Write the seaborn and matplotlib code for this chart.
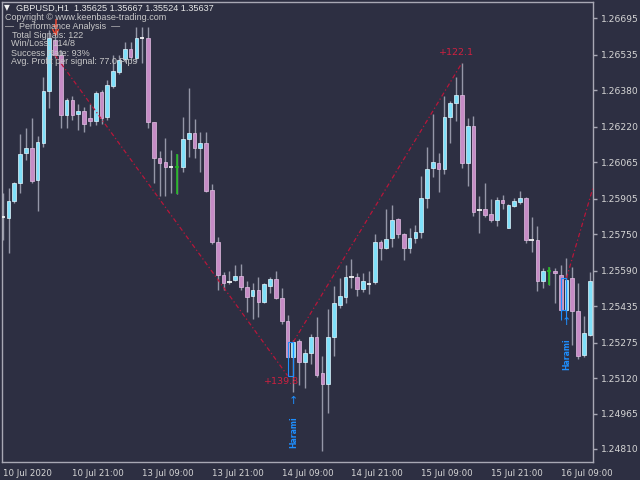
import matplotlib
matplotlib.use("Agg")
import matplotlib.pyplot as plt
from matplotlib.patches import Rectangle
import numpy as np
import pandas as pd
import seaborn as sns

# GBPUSD H1 bars, 10 Jul 2020 09:00 -> 16 Jul 2020 14:00
opens = [1.25825, 1.25820, 1.25895, 1.25973, 1.26105, 1.26126, 1.25986, 1.26148, 1.26376, 1.26599,
         1.26533, 1.26271, 1.26336, 1.26275, 1.26288, 1.26258, 1.26245, 1.26371, 1.26262, 1.26398,
         1.26459, 1.26516, 1.26559, 1.26520, 1.26608, 1.26608, 1.26240, 1.26083, 1.26065, 1.26043,
         1.26043, 1.26043, 1.26166, 1.26192, 1.26126, 1.26148, 1.25943, 1.25715, 1.25571, 1.25540,
         1.25549, 1.25567, 1.25519, 1.25479, 1.25505, 1.25453, 1.25523, 1.25554, 1.25470, 1.25370,
         1.25212, 1.25282, 1.25191, 1.25230, 1.25300, 1.25142, 1.25094, 1.25300, 1.25440, 1.25475,
         1.25562, 1.25562, 1.25510, 1.25532, 1.25540, 1.25715, 1.25689, 1.25733, 1.25816, 1.25750,
         1.25689, 1.25733, 1.25759, 1.25908, 1.26039, 1.26061, 1.26035, 1.26262, 1.26323, 1.26358,
         1.26061, 1.26223, 1.25855, 1.25860, 1.25838, 1.25812, 1.25899, 1.25777, 1.25873, 1.25890,
         1.25908, 1.25724, 1.25724, 1.25545, 1.25589, 1.25589, 1.25571, 1.25418, 1.25558, 1.25414,
         1.25221, 1.25309]
highs = [1.25930, 1.25952, 1.25978, 1.26188, 1.26214, 1.26258, 1.26179, 1.26437, 1.26642, 1.26612,
         1.26555, 1.26345, 1.26354, 1.26319, 1.26306, 1.26319, 1.26376, 1.26380, 1.26424, 1.26533,
         1.26533, 1.26590, 1.26590, 1.26656, 1.26656, 1.26656, 1.26242, 1.26113, 1.26170, 1.26118,
         1.26100, 1.26262, 1.26389, 1.26253, 1.26197, 1.26197, 1.25969, 1.25737, 1.25584, 1.25589,
         1.25615, 1.25619, 1.25545, 1.25536, 1.25562, 1.25536, 1.25562, 1.25589, 1.25514, 1.25396,
         1.25287, 1.25291, 1.25247, 1.25313, 1.25387, 1.25217, 1.25422, 1.25523, 1.25558, 1.25615,
         1.25641, 1.25580, 1.25580, 1.25589, 1.25750, 1.25724, 1.25860, 1.25877, 1.25820, 1.25755,
         1.25777, 1.25790, 1.26004, 1.26131, 1.26275, 1.26105, 1.26354, 1.26332, 1.26437, 1.26498,
         1.26258, 1.26266, 1.25917, 1.25973, 1.25903, 1.25912, 1.25921, 1.25882, 1.25908, 1.25938,
         1.25912, 1.25825, 1.25785, 1.25602, 1.25606, 1.25602, 1.25615, 1.25645, 1.25606, 1.25536,
         1.25392, 1.25584]
lows = [1.25724, 1.25667, 1.25886, 1.25930, 1.26074, 1.25973, 1.25851, 1.26131, 1.26301, 1.26520,
        1.26214, 1.26214, 1.26249, 1.26205, 1.26197, 1.26223, 1.26227, 1.26231, 1.26249, 1.26389,
        1.26450, 1.26503, 1.26511, 1.26503, 1.26498, 1.26214, 1.25973, 1.25917, 1.25917, 1.25930,
        1.25925, 1.26022, 1.26087, 1.26083, 1.26022, 1.25934, 1.25707, 1.25505, 1.25505, 1.25532,
        1.25545, 1.25505, 1.25409, 1.25379, 1.25387, 1.25449, 1.25492, 1.25466, 1.25357, 1.25208,
        1.25059, 1.25090, 1.25077, 1.25182, 1.25125, 1.24801, 1.24968, 1.25217, 1.25427, 1.25449,
        1.25514, 1.25479, 1.25497, 1.25488, 1.25532, 1.25637, 1.25685, 1.25694, 1.25733, 1.25637,
        1.25667, 1.25711, 1.25733, 1.25864, 1.26000, 1.25934, 1.26013, 1.26148, 1.26245, 1.26039,
        1.25960, 1.25829, 1.25755, 1.25825, 1.25803, 1.25785, 1.25860, 1.25775, 1.25869, 1.25882,
        1.25711, 1.25672, 1.25501, 1.25514, 1.25527, 1.25449, 1.25414, 1.25409, 1.25265, 1.25204,
        1.25212, 1.25304]
closes = [1.25825, 1.25895, 1.25973, 1.26100, 1.26126, 1.25982, 1.26153, 1.26376, 1.26608, 1.26533,
          1.26271, 1.26336, 1.26271, 1.26288, 1.26231, 1.26245, 1.26367, 1.26258, 1.26402, 1.26463,
          1.26511, 1.26559, 1.26524, 1.26608, 1.26608, 1.26240, 1.26083, 1.26061, 1.26043, 1.26043,
          1.26043, 1.26166, 1.26192, 1.26126, 1.26148, 1.25938, 1.25715, 1.25571, 1.25536, 1.25540,
          1.25567, 1.25519, 1.25475, 1.25505, 1.25453, 1.25532, 1.25554, 1.25470, 1.25370, 1.25212,
          1.25278, 1.25191, 1.25230, 1.25300, 1.25134, 1.25094, 1.25300, 1.25449, 1.25479, 1.25562,
          1.25562, 1.25510, 1.25545, 1.25532, 1.25715, 1.25689, 1.25728, 1.25812, 1.25750, 1.25689,
          1.25733, 1.25759, 1.25908, 1.26035, 1.26065, 1.26035, 1.26262, 1.26323, 1.26358, 1.26061,
          1.26223, 1.25847, 1.25855, 1.25833, 1.25812, 1.25899, 1.25886, 1.25877, 1.25895, 1.25908,
          1.25724, 1.25724, 1.25545, 1.25589, 1.25589, 1.25580, 1.25418, 1.25549, 1.25414, 1.25217,
          1.25317, 1.25545]
green_bars = [30, 94]

time_labels = ["10 Jul 2020", "10 Jul 21:00", "13 Jul 09:00", "13 Jul 21:00", "14 Jul 09:00",
               "14 Jul 21:00", "15 Jul 09:00", "15 Jul 21:00", "16 Jul 09:00"]
price_ticks = [1.26695, 1.26535, 1.26380, 1.26220, 1.26065, 1.25905, 1.25750,
               1.25590, 1.25435, 1.25275, 1.25120, 1.24965, 1.24810]

# signal lines (entry bar/price -> exit bar/price) and profits
sig_bars = [[9, 49], [50, 79], [97, 102]]
sig_prices = [[1.26533, 1.25131], [1.25278, 1.26498], [1.25558, 1.25991]]
profit_text = ["+139.8", "+122.1"]
profit_at = [(48, 1.25103), (78, 1.26546)]
harami_bars = [50, 97]
harami_arrow = [1.25020, 1.25366]
harami_text = [1.24884, 1.25223]

info_lines = ["Copyright \u00a9 www.keenbase-trading.com",
              "\u2014  Performance Analysis  \u2014",
              "Total Signals: 122",
              "Win/Loss: 114/8",
              "Success Rate: 93%",
              "Avg. Profit per signal: 77.0 Pips"]

df = pd.DataFrame({"o": opens, "h": highs, "l": lows, "c": closes})
df["i"] = np.arange(len(df))

bg = "#2d2f42"
sns.set_style("dark", {"axes.facecolor": bg, "figure.facecolor": bg})
plt.rcParams["font.family"] = ["DejaVu Sans"]

fig = plt.figure(figsize=(6.4, 4.8), dpi=100)
ax = fig.add_axes([2 / 640, 18 / 480, 591 / 640, 460 / 480])
ax.set_facecolor(bg)

# wicks
ax.vlines(df["i"], df["l"], df["h"], color="#9597a8", lw=1, zorder=2)

bull = df[df["c"] > df["o"]]
bear = df[df["c"] < df["o"]]
doji = df[df["c"] == df["o"]]
w = 0.64
ax.bar(bull["i"], bull["c"] - bull["o"], bottom=bull["o"], width=w,
       color="#7fe0fa", edgecolor="#e2f8ff", linewidth=0.5, zorder=3)
ax.bar(bear["i"], bear["o"] - bear["c"], bottom=bear["c"], width=w,
       color="#c68cc6", edgecolor="#e4c0e4", linewidth=0.5, zorder=3)
for _, r in doji.iterrows():
    col = "#22b822" if int(r["i"]) in green_bars else "#ffffff"
    if col != "#ffffff":
        ax.vlines(r["i"], r["l"], r["h"], color=col, lw=1.2, zorder=3)
    ax.hlines(r["c"], r["i"] - 0.38, r["i"] + 0.38, color=col, lw=1.2, zorder=4)

# signal lines
red = "#b8163a"
for xs, ys in zip(sig_bars, sig_prices):
    sns.lineplot(x=xs, y=ys, ax=ax, color=red, lw=0.9, sort=False, estimator=None,
                 linestyle=(0, (3.5, 2, 1, 2)), zorder=5)
for txt, (bx, py) in zip(profit_text, profit_at):
    ax.text(bx, py, txt, color="#d02040", fontsize=6.8, ha="center", va="center", zorder=6)

# harami markers
blue = "#1e8fff"
for b, pa, pt in zip(harami_bars, harami_arrow, harami_text):
    ax.text(b, pa, "\u2191", color=blue, fontsize=8, ha="center", va="center", zorder=6)
    ax.text(b, pt, "Harami", color=blue, fontsize=5.6, fontweight="bold", rotation=90,
            ha="center", va="center", zorder=6)
ax.add_patch(Rectangle((49, 1.25129), 1, 1.25278 - 1.25129, fill=False, ec=blue, lw=0.8, zorder=6))
ax.add_patch(Rectangle((96, 1.25418), 1, 1.25558 - 1.25418, fill=False, ec=blue, lw=0.8, zorder=6))
ax.vlines([96, 97], 1.25374, 1.25418, color=blue, lw=0.8, zorder=6)

# bearish signal mark at the top left, drawn as lines
sell = "#f04830"
ax.vlines(9.1, 1.26620, 1.26690, color=sell, lw=1.1, zorder=6)
ax.hlines(1.26660, 8.6, 9.6, color=sell, lw=1.1, zorder=6)
ax.plot([8.6, 9.1, 9.6], [1.26645, 1.26620, 1.26645], color=sell, lw=1.0, zorder=6)

ax.set_xlim(-0.12, 101.56)
ax.set_ylim(1.24753, 1.26765)
ax.set_xlabel("")
ax.set_ylabel("")
ax.grid(False)

ax.set_xticks(np.arange(0, len(df), 12))
ax.set_xticklabels(time_labels, ha="left")
ax.yaxis.tick_right()
ax.set_yticks(price_ticks)
ax.set_yticklabels([f"{p:.5f}" for p in price_ticks])
ax.tick_params(axis="both", direction="out", length=3, width=1, color="#a8a8b4",
               labelcolor="#d6d6d6", pad=2)
ax.tick_params(axis="x", labelsize=6.2)
ax.tick_params(axis="y", labelsize=6.6, pad=3)
for s in ax.spines.values():
    s.set_visible(True)
    s.set_color("#a8a8b4")
    s.set_linewidth(1)

# header / info text
info_font = ["Liberation Sans", "DejaVu Sans"]
fig.text(4 / 640, 1 - 8 / 480, "\u25bc", color="#f0f0f0", fontsize=5.5, va="center")
fig.text(16 / 640, 1 - 8 / 480, "GBPUSD,H1  1.35625 1.35667 1.35524 1.35637",
         color="#e8e8e8", fontsize=6.6, va="center", family=info_font)
ys = [17.5, 26.5, 35.5, 44, 53, 62]
xs = [5, 5, 12, 11, 11, 11]
for t, x, y in zip(info_lines, xs, ys):
    fig.text(x / 640, 1 - y / 480, t, color="#c8c8c8", fontsize=6.5, va="center",
             family=info_font, zorder=10)

fig.savefig("out.png", dpi=100, facecolor=bg)
